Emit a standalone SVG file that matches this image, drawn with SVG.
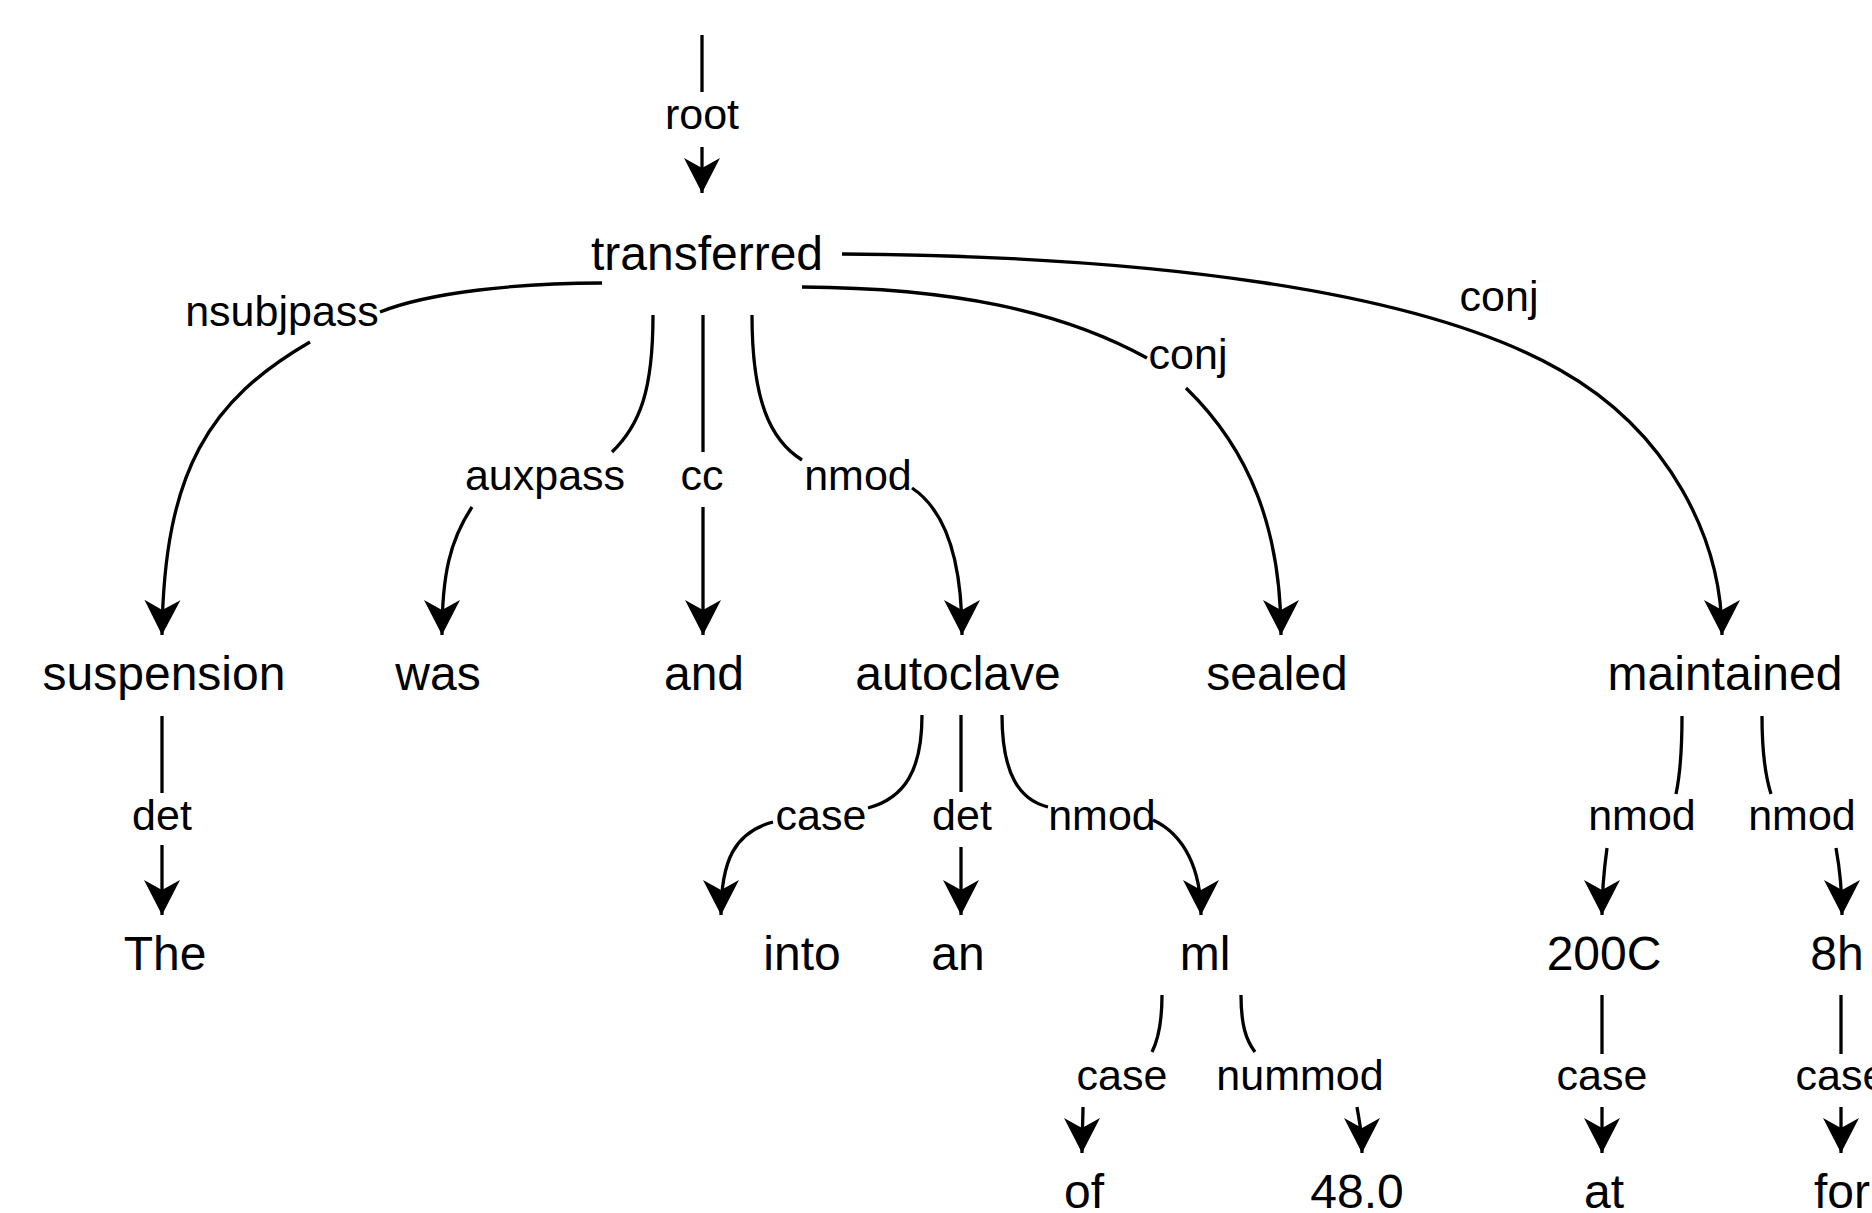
<svg xmlns="http://www.w3.org/2000/svg" width="1872" height="1213" viewBox="0 0 1872 1213">
  <style>
    .node { font-family: "Liberation Sans", Arial, Helvetica, sans-serif; font-size: 48px; fill: #000; text-anchor: middle; }
    .lbl { font-family: "Liberation Sans", Arial, Helvetica, sans-serif; font-size: 43px; fill: #000; text-anchor: middle; }
    .edge { fill: none; stroke: #000; stroke-width: 3.3; }
    .arr { marker-end: url(#head); }
  </style>
  <defs>
    <marker id="head" markerUnits="userSpaceOnUse" markerWidth="40" markerHeight="40" viewBox="0 -20 40 40" refX="35" refY="0" orient="auto">
      <path d="M0,-18 L35,0 L0,18 L10,0 Z" fill="#000"/>
    </marker>
  </defs>
  <rect width="1872" height="1213" fill="#fff"/>

  <!-- dependency arcs: head segment up to the label, then label to dependent -->
  <g id="edges">
    <!-- root -->
    <path class="edge" d="M702 35 V92"/>
    <path class="edge arr" d="M702 147 V193"/>
    <!-- nsubjpass -->
    <path class="edge" d="M602 283 C 520 283 430 292 380 312"/>
    <path class="edge arr" d="M310 342 C 210 400 164 470 162 635"/>
    <!-- auxpass -->
    <path class="edge" d="M653 315 C 653 390 640 425 612 452"/>
    <path class="edge arr" d="M472 507 C 450 540 442 575 442 635"/>
    <!-- cc -->
    <path class="edge" d="M703 315 V452"/>
    <path class="edge arr" d="M703 507 V635"/>
    <!-- nmod (autoclave) -->
    <path class="edge" d="M752 315 C 752 400 770 440 802 460"/>
    <path class="edge arr" d="M912 488 C 945 510 962 560 962 635"/>
    <!-- conj (sealed) -->
    <path class="edge" d="M802 287 C 950 288 1060 310 1147 358"/>
    <path class="edge arr" d="M1186 388 C 1250 450 1281 530 1281 635"/>
    <!-- conj (maintained) -->
    <path class="edge arr" d="M842 254 C 1150 256 1420 290 1560 370 C 1670 432 1722 540 1722 635"/>
    <!-- det (suspension) -->
    <path class="edge" d="M162 716 V793"/>
    <path class="edge arr" d="M162 845 V915"/>
    <!-- case (autoclave) -->
    <path class="edge" d="M922 715 C 922 770 905 798 868 808"/>
    <path class="edge arr" d="M773 822 C 735 832 721 860 721 915"/>
    <!-- det (autoclave) -->
    <path class="edge" d="M961 715 V792"/>
    <path class="edge arr" d="M961 847 V915"/>
    <!-- nmod (ml) -->
    <path class="edge" d="M1002 715 C 1002 775 1020 800 1048 807"/>
    <path class="edge arr" d="M1153 820 C 1185 835 1201 870 1201 915"/>
    <!-- nmod (200C) -->
    <path class="edge" d="M1682 716 C 1682 750 1680 775 1676 794"/>
    <path class="edge arr" d="M1607 848 C 1604 870 1602 890 1602 915"/>
    <!-- nmod (8h) -->
    <path class="edge" d="M1762 716 C 1762 750 1765 775 1771 794"/>
    <path class="edge arr" d="M1836 848 C 1840 870 1842 890 1842 915"/>
    <!-- case (of) -->
    <path class="edge" d="M1162 995 C 1162 1025 1158 1040 1152 1052"/>
    <path class="edge arr" d="M1083 1107 C 1083 1120 1082 1130 1082 1153"/>
    <!-- nummod -->
    <path class="edge" d="M1241 995 C 1241 1025 1246 1040 1255 1052"/>
    <path class="edge arr" d="M1357 1107 C 1359 1120 1362 1130 1362 1153"/>
    <!-- case (at) -->
    <path class="edge" d="M1602 995 V1054"/>
    <path class="edge arr" d="M1602 1107 V1153"/>
    <!-- case (for) -->
    <path class="edge" d="M1841 995 V1054"/>
    <path class="edge arr" d="M1841 1107 V1153"/>
  </g>

  <g id="labels">
    <text class="lbl" x="702" y="129">root</text>
    <text class="lbl" x="282" y="326">nsubjpass</text>
    <text class="lbl" x="545" y="490">auxpass</text>
    <text class="lbl" x="702" y="490">cc</text>
    <text class="lbl" x="858" y="490">nmod</text>
    <text class="lbl" x="1188" y="369">conj</text>
    <text class="lbl" x="1499" y="311">conj</text>
    <text class="lbl" x="162" y="830">det</text>
    <text class="lbl" x="821" y="830">case</text>
    <text class="lbl" x="962" y="830">det</text>
    <text class="lbl" x="1102" y="830">nmod</text>
    <text class="lbl" x="1642" y="830">nmod</text>
    <text class="lbl" x="1802" y="830">nmod</text>
    <text class="lbl" x="1122" y="1090">case</text>
    <text class="lbl" x="1300" y="1090">nummod</text>
    <text class="lbl" x="1602" y="1090">case</text>
    <text class="lbl" x="1841" y="1090">case</text>
  </g>

  <g id="n-transferred"><text class="node" x="707" y="270">transferred</text></g>
  <g id="n-suspension"><text class="node" x="164" y="690">suspension</text></g>
  <g id="n-was"><text class="node" x="438" y="690">was</text></g>
  <g id="n-and"><text class="node" x="704" y="690">and</text></g>
  <g id="n-autoclave"><text class="node" x="958" y="690">autoclave</text></g>
  <g id="n-sealed"><text class="node" x="1277" y="690">sealed</text></g>
  <g id="n-maintained"><text class="node" x="1725" y="690">maintained</text></g>
  <g id="n-the"><text class="node" x="165" y="970">The</text></g>
  <g id="n-into"><text class="node" x="802" y="970">into</text></g>
  <g id="n-an"><text class="node" x="958" y="970">an</text></g>
  <g id="n-ml"><text class="node" x="1205" y="970">ml</text></g>
  <g id="n-200c"><text class="node" x="1604" y="970">200C</text></g>
  <g id="n-8h"><text class="node" x="1837" y="970">8h</text></g>
  <g id="n-of"><text class="node" x="1084" y="1208">of</text></g>
  <g id="n-48"><text class="node" x="1357" y="1208">48.0</text></g>
  <g id="n-at"><text class="node" x="1604" y="1208">at</text></g>
  <g id="n-for"><text class="node" x="1842" y="1208">for</text></g>
</svg>
